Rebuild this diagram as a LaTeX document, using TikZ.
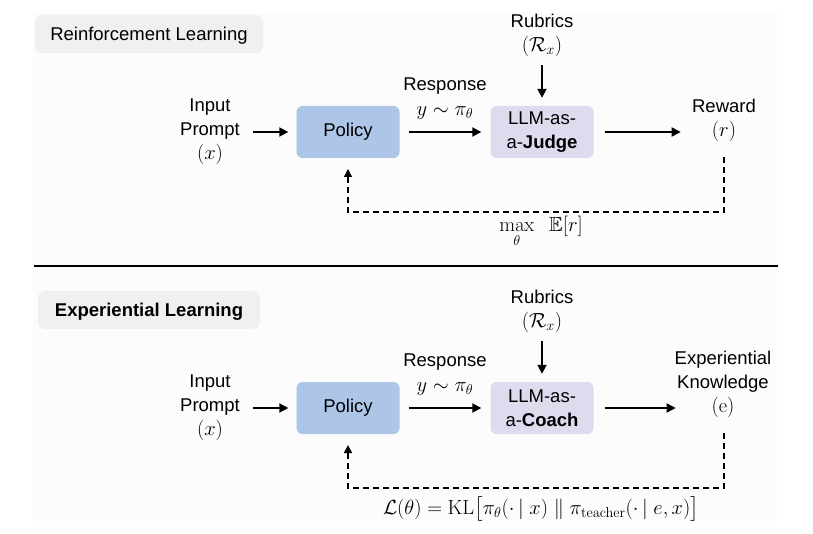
\RequirePackage{fix-cm}
\documentclass[tikz,border=0pt]{standalone}
\usepackage{amsmath,amssymb}
\usepackage[no-math]{fontspec}
\setmainfont{Liberation Sans}
\usetikzlibrary{arrows.meta}
\definecolor{polfill}{HTML}{ADC6E8}
\definecolor{judfill}{HTML}{DDDBEE}
\definecolor{tagfill}{HTML}{EEF1F0}
\definecolor{panelfill}{HTML}{FCFCFC}
\newcommand{\msz}{\fontsize{20.5}{24}\selectfont}
\begin{document}
\begin{tikzpicture}[x=1pt,y=-1pt,
  every node/.style={font=\fontsize{18.5}{24}\selectfont},
  txt/.style={inner sep=0pt, align=center},
  box/.style={rounded corners=6pt, minimum width=103pt, minimum height=52pt, inner sep=0pt, align=center},
  polbox/.style={box, fill=polfill},
  judbox/.style={box, fill=judfill},
  tagbox/.style={rounded corners=7pt, fill=tagfill, minimum height=38pt, inner sep=0pt, text height=13.3pt, text depth=0pt},
  arr/.style={line width=1.8pt, -{Triangle[length=9pt,width=9pt]}},
  dsh/.style={line width=1.5pt, dash pattern=on 6pt off 4pt, -{Triangle[length=8pt,width=8pt]}}
]
\useasboundingbox (0,0) rectangle (813,534);
\fill[panelfill] (33,13) rectangle (777,521);

% ---------- top: Reinforcement Learning ----------
\node[tagbox, minimum width=228pt] (tag1) at (149,34) {Reinforcement Learning};

\node[txt] (inp1) at (210,132) {Input\\Prompt\\{\msz$(x)$}};
\node[polbox] (pol1) at (348,132) {Policy};
\node[judbox] (jud1) at (542,132) {LLM-as-\\a-\textbf{Judge}};
\node[txt] (rub1) at (542,35) {Rubrics\\{\msz$(\mathcal{R}_x)$}};
\node[txt] (resp1) at (445,99) {Response\\[1pt]{\msz$y\sim\pi_\theta$}};
\node[txt] (rew1) at (724,120) {Reward\\{\msz$(r)$}};
\node[txt, anchor=base] (obj1) at (541,232) {\msz$\max\limits_{\theta}\ \ \mathbb{E}[r]$};

\draw[arr, shorten <=13pt, shorten >=8pt] (inp1) -- (pol1);
\draw[arr, shorten <=9pt, shorten >=9pt] (pol1) -- (jud1);
\draw[arr, shorten <=11pt] (jud1.east) -- ++(87,0);
\draw[arr] (rub1.south |- 0,65) -- ([yshift=8pt]jud1.north);
\coordinate (d1s) at (724,157);
\coordinate (d1e) at (348,169);
\draw[dsh] (d1s) -- ++(0,55) -| (d1e);

% ---------- separator ----------
\draw[line width=1.2pt] (34,266) -- (778,266);

% ---------- bottom: Experiential Learning ----------
\node[tagbox, minimum width=222pt] (tag2) at (149,310) {\textbf{Experiential Learning}};

\node[txt] (inp2) at (210,408) {Input\\Prompt\\{\msz$(x)$}};
\node[polbox] (pol2) at (348,408) {Policy};
\node[judbox] (jud2) at (542,408) {LLM-as-\\a-\textbf{Coach}};
\node[txt] (rub2) at (542,311) {Rubrics\\{\msz$(\mathcal{R}_x)$}};
\node[txt] (resp2) at (445,375) {Response\\[1pt]{\msz$y\sim\pi_\theta$}};
\node[txt] (ek2) at (723,384) {Experiential\\Knowledge\\{\msz$(\mathrm{e})$}};
\node[txt, anchor=base] (obj2) at (541,514)
  {\msz$\mathcal{L}(\theta)=\mathrm{KL}\bigl[\pi_\theta(\cdot\,|\;x)\;\|\;\pi_{\mathrm{teacher}}(\cdot\,|\;e,x)\bigr]$};

\draw[arr, shorten <=13pt, shorten >=8pt] (inp2) -- (pol2);
\draw[arr, shorten <=9pt, shorten >=9pt] (pol2) -- (jud2);
\draw[arr, shorten <=11pt] (jud2.east) -- ++(82,0);
\draw[arr] (rub2.south |- 0,341) -- ([yshift=8pt]jud2.north);
\coordinate (d2s) at (724,433);
\coordinate (d2e) at (348,445);
\draw[dsh] (d2s) -- ++(0,55) -| (d2e);
\end{tikzpicture}
\end{document}
